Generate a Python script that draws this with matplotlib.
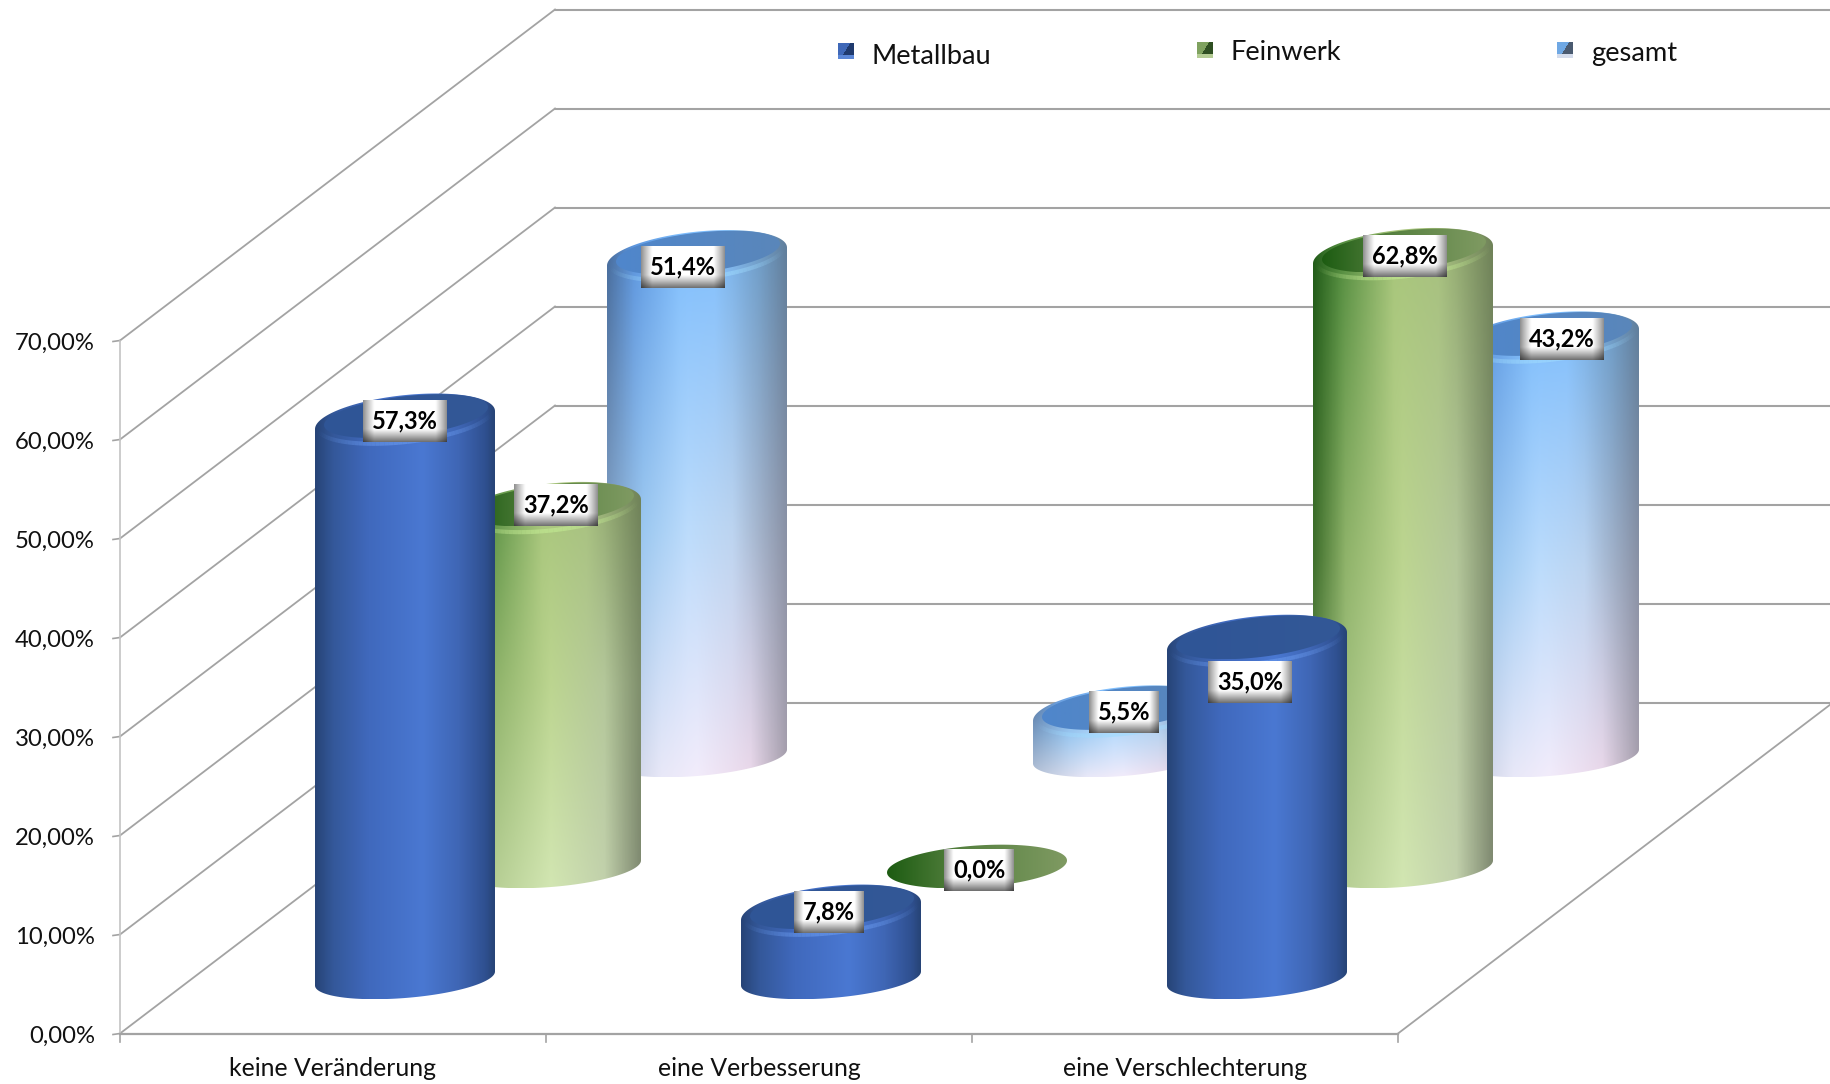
import numpy as np
import matplotlib
matplotlib.use("Agg")
import matplotlib.pyplot as plt
from matplotlib.colors import LinearSegmentedColormap, to_rgb
from matplotlib.patches import Polygon
from matplotlib.collections import LineCollection

plt.rcParams['font.family'] = ['Lato', 'DejaVu Sans']

categories = ["keine Veränderung", "eine Verbesserung", "eine Verschlechterung"]
series_names = ["Metallbau", "Feinwerk", "gesamt"]
metallbau = [57.3, 7.8, 35.0]
feinwerk = [37.2, 0.0, 62.8]
gesamt = [51.4, 5.5, 43.2]
y_ticks = [0, 10, 20, 30, 40, 50, 60, 70]

# layout in pixels of the picture
X0, Y0 = 120, 1033.5
PER_PCT = 9.9
DEPTH_X, DEPTH_Y = 435, 331
CAT_STEP = 426
FIRST_CX, FIRST_CY = 405, 978.5
SER_DX, SER_DY = 146, 111
A, B, K = 90, 19.5, 7
B_TOP, K_TOP = 25, 9

GRID = "#a3a3a3"


def stops(*pairs):
    return LinearSegmentedColormap.from_list("g", list(pairs), N=256)


# horizontal colour stops at a few heights of the cylinder (top to bottom)
body = [
    [(0, [(0, "#274477"), (.1, "#34589a"), (.3, "#4069bd"), (.6, "#4a78d2"), (.8, "#3f66b5"), (.95, "#2f5090"), (1, "#274477")])],
    [(0, [(0, "#1f5a17"), (.15, "#4f8a3c"), (.45, "#a7c57a"), (.7, "#a6c07d"), (1, "#6f8258")]),
     (.5, [(0, "#3f6f2c"), (.18, "#8fb36a"), (.5, "#bcd590"), (.8, "#b4c79a"), (1, "#7f8f6c")]),
     (1, [(0, "#8fae72"), (.2, "#b8d096"), (.5, "#d2e6b2"), (.8, "#c2d1ac"), (1, "#808a72")])],
    [(0, [(0, "#44699a"), (.15, "#5a94de"), (.4, "#7cbcfc"), (.6, "#7fbefd"), (.85, "#6c9cc8"), (1, "#5f7e9c")]),
     (.55, [(0, "#7f9fc4"), (.2, "#9cc8f0"), (.45, "#bcdcfc"), (.7, "#bcd4f0"), (1, "#8a92a6")]),
     (1, [(0, "#b8c4d8"), (.3, "#e8e8f8"), (.5, "#f2ecfb"), (.8, "#ead8ea"), (1, "#a8a0ae")])],
]
face = [
    [(0, "#2f5597"), (1, "#335896")],
    [(0, "#1d5c12"), (.4, "#55803f"), (1, "#7f9a62")],
    [(0, "#4f86cc"), (1, "#5a86ba")],
]
shine = ["#6b9cf0", "#c4ec94", "#a0dcff"]
legend_dark = ["#1f3a6e", "#2f4f22", "#4a5a70"]
legend_mid = ["#3f69b8", "#7fa35f", "#6fa8e4"]
legend_low = ["#5a86d6", "#b4cc94", "#d4dcec"]
label_nudge = [
    [(0, 1), (-2, 1), (-6, 35)],
    [(4, -3), (2, 2), (2, 1)],
    [(-12, 9), (1, 0), (11, 1)],
]


def y_of(v):
    return Y0 - v * PER_PCT


def ellipse(cx, cy, a, b, k, t):
    return np.column_stack([cx + a * np.cos(t), cy - k * np.cos(t) - b * np.sin(t)])


def gradient(levels, nx=200, ny=200):
    u = np.linspace(0, 1, nx)
    rows = [(v, stops(*cols)(u)[:, :3]) for v, cols in levels]
    img = np.zeros((ny, nx, 3))
    for j, v in enumerate(np.linspace(0, 1, ny)):
        if len(rows) == 1:
            img[j] = rows[0][1]
            continue
        for (v0, c0), (v1, c1) in zip(rows[:-1], rows[1:]):
            if v <= v1:
                f = (v - v0) / (v1 - v0)
                img[j] = c0 * (1 - f) + c1 * f
                break
    return img


def clipped(img, pts, z):
    x0, x1 = pts[:, 0].min(), pts[:, 0].max()
    y0, y1 = pts[:, 1].min(), pts[:, 1].max()
    im = ax.imshow(img, extent=(x0, x1, y1, y0), aspect="auto", zorder=z, interpolation="bilinear")
    im.set_clip_path(Polygon(pts, closed=True, transform=ax.transData))


def cylinder(cx, cy, value, s, z):
    top = cy - max(value * 9.92 - 10, 0)
    u_top = np.linspace(np.pi, 0, 80)
    u_bot = np.linspace(0, -np.pi, 80)
    t = np.linspace(0, 2 * np.pi, 120)
    if value > 0:
        pts = np.vstack([ellipse(cx, top, A, B_TOP, K_TOP, u_top), ellipse(cx, cy, A, B, K, u_bot)])
        clipped(gradient(body[s]), pts, z)
        # rim highlight along the front of the top
        arc_t = np.linspace(-np.pi, 0, 60)
        arc = ellipse(cx, top - 1, A - 3, B_TOP - 2, K_TOP, arc_t)
        segs = np.stack([arc[:-1], arc[1:]], axis=1)
        alpha = np.sin(np.linspace(0, np.pi, 59)) ** 2 * .6
        rgb = to_rgb(shine[s])
        ax.add_collection(LineCollection(segs, colors=[(*rgb, al) for al in alpha], linewidths=3, zorder=z + .1))
        clipped(gradient([(0, face[s])], ny=2), ellipse(cx + 1, top - 4, A - 8, B_TOP - 5, K_TOP, t), z + .2)
    else:
        clipped(gradient([(0, face[s])], ny=2), ellipse(cx, cy - 1, A, B + 1.5, K - 1, t), z + .2)
    return top


def value_label(cx, cy, text):
    w = 84 if len(text) > 4 else 70
    h = 42
    nx, ny = 80, 40
    u = np.linspace(0, 1, nx)
    v = np.linspace(0, 1, ny)
    prof_x = np.clip(np.minimum(u, 1 - u) / .13, 0, 1) * .5 + .5
    prof_y = np.where(v > .7, 1 - (v - .7) / .3 * .55, 1)
    img = np.clip(np.outer(prof_y, prof_x ** .8), 0, 1)
    img = np.dstack([img, img, img])
    ax.imshow(img, extent=(cx - w / 2, cx + w / 2, cy + h / 2, cy - h / 2), aspect="auto", zorder=50)
    ax.text(cx, cy, text, ha="center", va="center", fontsize=17, fontweight="bold", color="black", zorder=51)


fig = plt.figure(figsize=(18.31, 10.84), dpi=100)
ax = fig.add_axes([0, 0, 1, 1])
ax.axis("off")

# walls and floor
for v in y_ticks:
    y = y_of(v)
    ax.plot([X0, X0 + DEPTH_X], [y, y - DEPTH_Y], color=GRID, lw=1.3, zorder=1)
    ax.plot([X0 + DEPTH_X, 1831], [y - DEPTH_Y, y - DEPTH_Y], color=GRID, lw=1.5, zorder=1)
    ax.plot([X0 - 7, X0], [y + 1, y], color=GRID, lw=1.2, zorder=1)
    ax.text(X0 - 25, y + 3, f"{v},00%", ha="right", va="center", fontsize=17.2, color="#111111")
ax.plot([X0, X0], [y_of(0), y_of(70)], color="#c4c4c4", lw=1.2, zorder=1)
right_x = X0 + 3 * CAT_STEP
ax.plot([X0, right_x], [Y0, Y0], color=GRID, lw=1.6, zorder=1)
ax.plot([right_x, right_x + DEPTH_X], [Y0, Y0 - DEPTH_Y], color=GRID, lw=1.3, zorder=1)
for i in range(4):
    xt = X0 + i * CAT_STEP
    ax.plot([xt, xt], [Y0, Y0 + 8], color=GRID, lw=1.2, zorder=1)
for i, name in enumerate(categories):
    ax.text(X0 + (i + .5) * CAT_STEP, 1068, name, ha="center", va="center", fontsize=17.8, color="#111111")

# cylinders back to front
all_series = [metallbau, feinwerk, gesamt]
z = 10
label_jobs = []
for s in [2, 1, 0]:
    for c in range(3):
        cx = FIRST_CX + c * CAT_STEP + s * SER_DX
        cy = FIRST_CY - s * SER_DY
        val = all_series[s][c]
        top = cylinder(cx, cy, val, s, z)
        z += 1
        nx_, ny_ = label_nudge[s][c]
        label_jobs.append((cx + nx_ * 1.168, top + ny_ * 1.168, f"{val:.1f}".replace(".", ",") + "%"))
for job in label_jobs:
    value_label(*job)

# legend
legend_x = [846, 1205, 1565]
legend_y = [51, 50, 50]
legend_text_y = [57, 52, 53]
for s, name in enumerate(series_names):
    lx, ly = legend_x[s], legend_y[s]
    u = np.linspace(0, 1, 16)
    xx, yy = np.meshgrid(u, u)
    img = np.zeros((16, 16, 3))
    img[:] = to_rgb(legend_mid[s])
    img[xx + yy * .6 > .75] = to_rgb(legend_dark[s])
    img[yy > .78] = to_rgb(legend_low[s])
    ax.imshow(img, extent=(lx - 8, lx + 8, ly + 8, ly - 8), aspect="auto", zorder=5, interpolation="bilinear")
    ax.text(lx + 26, legend_text_y[s], name, ha="left", va="center", fontsize=19.6, color="#111111")

ax.set_xlim(0, 1831)
ax.set_ylim(1084, 0)
fig.savefig("out.png", dpi=100)
